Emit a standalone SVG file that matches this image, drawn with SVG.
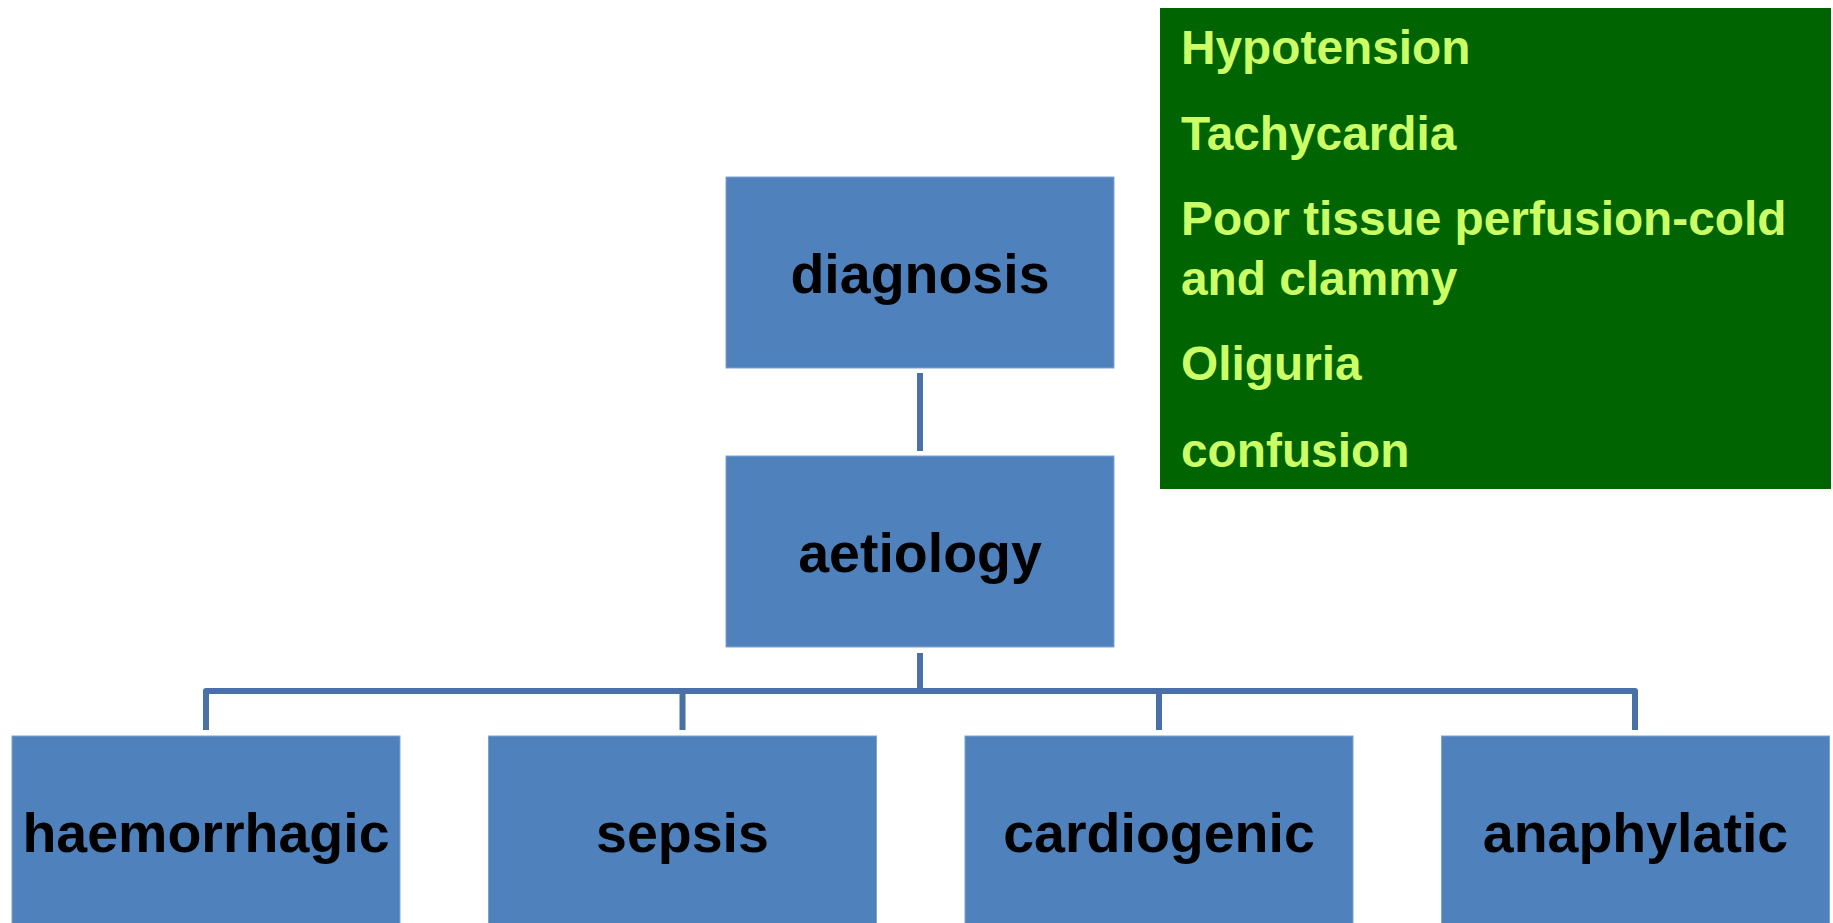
<svg xmlns="http://www.w3.org/2000/svg" width="1833" height="923" viewBox="0 0 1833 923">
<style>
.box{fill:#4F81BD;stroke:#7FA2D0;stroke-width:1}
.lbl{font-family:"Liberation Sans",Arial,sans-serif;font-weight:bold;font-size:55.5px;fill:#000;text-anchor:middle}
.conn{fill:none;stroke:#4A70A8;stroke-width:6;stroke-linejoin:round}
.sym{font-family:"Liberation Sans",Arial,sans-serif;font-weight:bold;font-size:47.8px;fill:#CCFF66}
</style>
<rect width="1833" height="923" fill="#fff"/>
<g id="connectors">
<line class="conn" x1="920" y1="373" x2="920" y2="451"/>
<line class="conn" x1="920" y1="653" x2="920" y2="691"/>
<path class="conn" d="M206,730 V691 H1635 V730"/>
<line class="conn" x1="682.5" y1="691" x2="682.5" y2="730"/>
<line class="conn" x1="1159" y1="691" x2="1159" y2="730"/>
</g>
<g id="symptoms">
<rect x="1160" y="8" width="671" height="481" fill="#006400"/>
<text class="sym" x="1181" y="63.5">Hypotension</text>
<text class="sym" x="1181" y="150">Tachycardia</text>
<text class="sym" x="1181" y="235">Poor tissue perfusion-cold</text>
<text class="sym" x="1181" y="295">and clammy</text>
<text class="sym" x="1181" y="380">Oliguria</text>
<text class="sym" x="1181" y="466.5">confusion</text>
</g>
<g id="diagnosis">
<rect class="box" x="726" y="177" width="388" height="191"/>
<text class="lbl" x="920" y="293">diagnosis</text>
</g>
<g id="aetiology">
<rect class="box" x="726" y="456" width="388" height="191"/>
<text class="lbl" x="920" y="572">aetiology</text>
</g>
<g id="haemorrhagic">
<rect class="box" x="12" y="736" width="388" height="191"/>
<text class="lbl" x="206" y="852">haemorrhagic</text>
</g>
<g id="sepsis">
<rect class="box" x="488.5" y="736" width="388" height="191"/>
<text class="lbl" x="682.5" y="852">sepsis</text>
</g>
<g id="cardiogenic">
<rect class="box" x="965" y="736" width="388" height="191"/>
<text class="lbl" x="1159" y="852">cardiogenic</text>
</g>
<g id="anaphylatic">
<rect class="box" x="1441.5" y="736" width="388" height="191"/>
<text class="lbl" x="1635.5" y="852">anaphylatic</text>
</g>
</svg>
